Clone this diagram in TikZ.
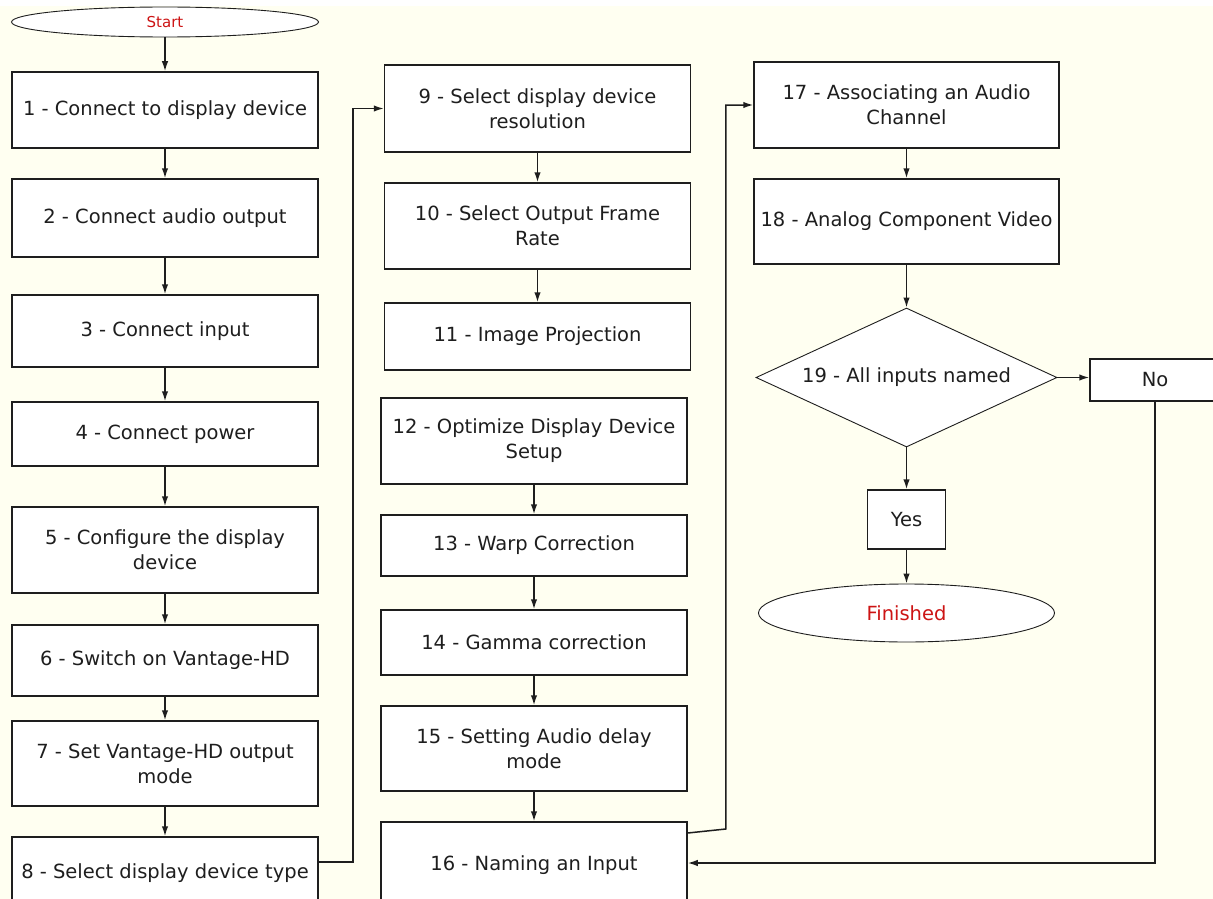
\documentclass[tikz,border=0pt]{standalone}
\usepackage{fontspec}
\setmainfont{DejaVu Sans}
\usepackage{tikz}
\usetikzlibrary{shapes.geometric, arrows.meta}
\definecolor{paper}{RGB}{255,255,241}
\definecolor{ink}{RGB}{30,30,30}
\definecolor{endred}{RGB}{205,20,20}
\tikzset{
x=1pt, y=-1pt, % one unit is one pixel of the screen shot, y going down
stepbox/.style={draw=ink, fill=white, line width=1.5pt, rectangle, inner sep=0pt,
  align=center, text=ink, font=\fontsize{19.5}{25}\selectfont}, % every numbered step
colA/.style={minimum width=306pt}, % width of the first column
colB/.style={minimum width=306pt},
colC/.style={minimum width=305pt},
endcap/.style={draw=ink, fill=white, line width=0.9pt, ellipse, inner sep=0pt, text=endred},
question/.style={draw=ink, fill=white, line width=0.9pt, diamond, aspect=2.17, inner sep=0pt,
  text=ink, font=\fontsize{19.5}{25}\selectfont},
flow/.style={draw=ink, line width=1.5pt, -{Latex[length=10pt,width=6.5pt]}}, % connectors
}

\begin{document}
\begin{tikzpicture}
\useasboundingbox (0,0) rectangle (1213,899);
\clip (0,0) rectangle (1213,899);
\fill[paper] (0,6) rectangle (1213,899);

% first column
\node[endcap, font=\fontsize{15}{18}\selectfont, minimum width=307pt, minimum height=30pt] (start) at (165,22) {Start};
\node[stepbox, colA, minimum height=76pt] (s1) at (165,110) {1 - Connect to display device};
\node[stepbox, colA, minimum height=78pt] (s2) at (165,218) {2 - Connect audio output};
\node[stepbox, colA, minimum height=72pt] (s3) at (165,331) {3 - Connect input};
\node[stepbox, colA, minimum height=64pt] (s4) at (165,434) {4 - Connect power};
\node[stepbox, colA, minimum height=86pt] (s5) at (165,550) {5 - Configure the display\\device};
\node[stepbox, colA, minimum height=71pt] (s6) at (165,660.5) {6 - Switch on Vantage-HD};
\node[stepbox, colA, minimum height=85pt] (s7) at (165,763.5) {7 - Set Vantage-HD output\\mode};
\node[stepbox, colA, minimum height=72pt] (s8) at (165,873) {8 - Select display device type};

% second column
\node[stepbox, colB, minimum height=87pt] (s9) at (537.5,108.5) {9 - Select display device\\resolution};
\node[stepbox, colB, minimum height=86pt] (s10) at (537.5,226) {10 - Select Output Frame\\Rate};
\node[stepbox, colB, minimum height=67pt] (s11) at (537.5,336.5) {11 - Image Projection};
\node[stepbox, colB, minimum height=86pt] (s12) at (534,441) {12 - Optimize Display Device\\Setup};
\node[stepbox, colB, minimum height=61pt] (s13) at (534,545.5) {13 - Warp Correction};
\node[stepbox, colB, minimum height=65pt] (s14) at (534,642.5) {14 - Gamma correction};
\node[stepbox, colB, minimum height=85pt] (s15) at (534,748.5) {15 - Setting Audio delay\\mode};
\node[stepbox, colB, minimum height=86pt] (s16) at (534,865) {16 - Naming an Input};

% third column
\node[stepbox, colC, minimum height=86pt] (s17) at (906.5,105) {17 - Associating an Audio\\Channel};
\node[stepbox, colC, minimum height=85pt] (s18) at (906.5,221.5) {18 - Analog Component Video};
\node[question, minimum width=301pt, minimum height=139pt] (named) at (906.5,377.5) {19 - All inputs named};
\node[stepbox, minimum width=78pt, minimum height=59pt] (yes) at (906.5,519.5) {Yes};
\node[stepbox, minimum width=130pt, minimum height=42pt] (no) at (1155,380) {No};
\node[endcap, font=\fontsize{19.5}{22}\selectfont, minimum width=296pt, minimum height=58pt] (finished) at (906.5,613) {Finished};

% straight arrows
\foreach \a/\b in {start/s1, s1/s2, s2/s3, s3/s4, s4/s5, s5/s6, s6/s7, s7/s8,
  s9/s10, s10/s11, s12/s13, s13/s14, s14/s15, s15/s16,
  s17/s18, s18/named, named/yes, yes/finished}
  \draw[flow] (\a) -- (\b);
\draw[flow] (named.east) -- (no.west |- named.east);

% jumps between the columns
\draw[flow] ([yshift=11pt]s8.east) -- ++(34,0) |- (s9.west);
\draw[flow] ([yshift=32pt]s16.east) -- ++(38,-4) |- (s17.west);
\draw[flow] (no.south) |- ([yshift=2pt]s16.east);

\end{tikzpicture}
\end{document}
